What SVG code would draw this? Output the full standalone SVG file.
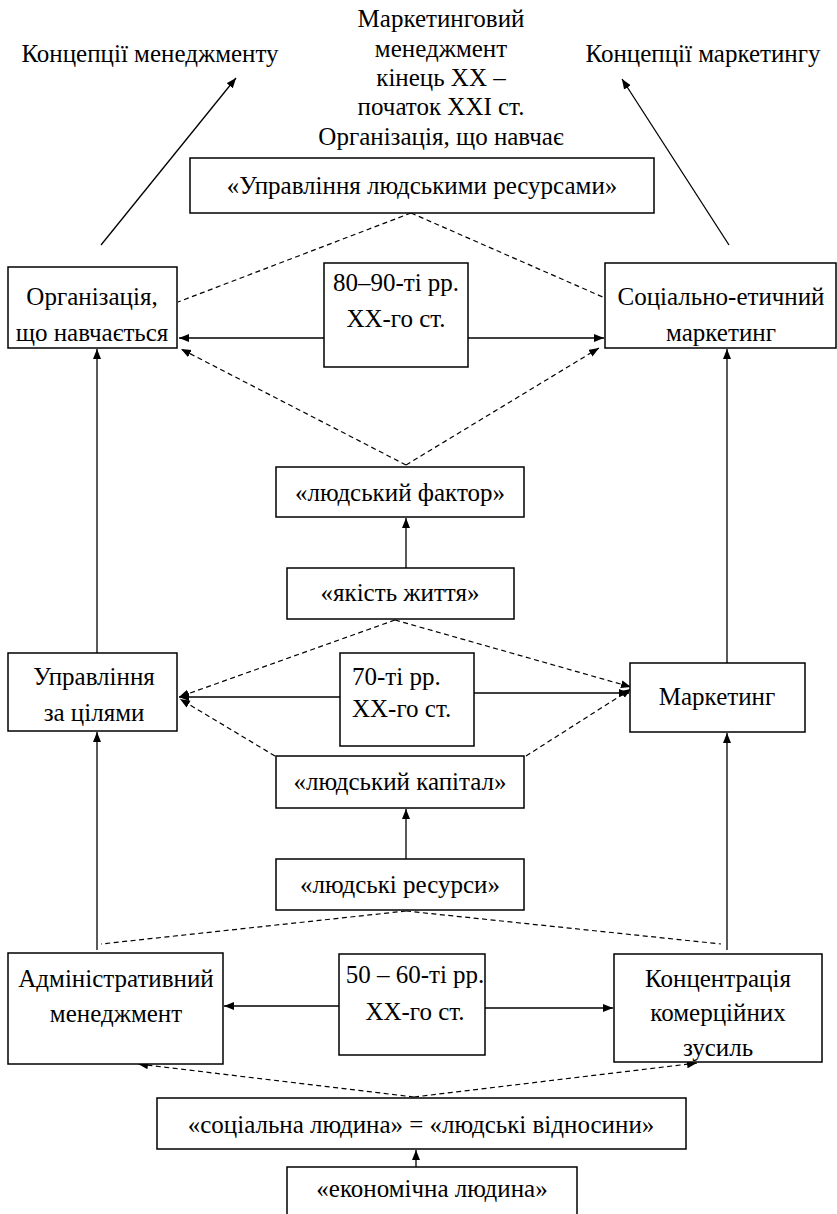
<svg xmlns="http://www.w3.org/2000/svg" width="837" height="1214" viewBox="0 0 837 1214">
<style>
.box{fill:#fff;stroke:#000;stroke-width:1.5}
.ln{fill:none;stroke:#000;stroke-width:1.3}
.da{fill:none;stroke:#000;stroke-width:1.2;stroke-dasharray:5 3.5}
.st{text-anchor:start}
</style>
<defs>
<marker id="ah" markerUnits="userSpaceOnUse" markerWidth="12" markerHeight="10" refX="10" refY="4" orient="auto">
<path d="M0,0 L10,4 L0,8 z" fill="#000"/>
</marker>
</defs>
<rect width="837" height="1214" fill="#fff"/>
<g id="connectors">
<line class="ln" x1="101" y1="245" x2="236" y2="78" marker-end="url(#ah)"/>
<line class="ln" x1="729" y1="245" x2="622" y2="79" marker-end="url(#ah)"/>
<line class="da" x1="411" y1="213" x2="178" y2="302"/>
<line class="da" x1="411" y1="213" x2="605" y2="298"/>
<line class="ln" x1="324" y1="338" x2="179" y2="338" marker-end="url(#ah)"/>
<line class="ln" x1="468" y1="338" x2="604" y2="338" marker-end="url(#ah)"/>
<line class="da" x1="406" y1="465" x2="181" y2="349" marker-end="url(#ah)"/>
<line class="da" x1="406" y1="465" x2="599" y2="348" marker-end="url(#ah)"/>
<line class="ln" x1="406" y1="568" x2="406" y2="518" marker-end="url(#ah)"/>
<line class="da" x1="395" y1="620" x2="179" y2="697" marker-end="url(#ah)"/>
<line class="da" x1="395" y1="620" x2="631" y2="687" marker-end="url(#ah)"/>
<line class="ln" x1="340" y1="697" x2="179" y2="697" marker-end="url(#ah)"/>
<line class="ln" x1="474" y1="693" x2="629" y2="693" marker-end="url(#ah)"/>
<line class="da" x1="275" y1="756" x2="180" y2="699" marker-end="url(#ah)"/>
<line class="da" x1="526" y1="756" x2="631" y2="689" marker-end="url(#ah)"/>
<line class="ln" x1="406" y1="859" x2="406" y2="809" marker-end="url(#ah)"/>
<line class="da" x1="406" y1="911" x2="101" y2="944"/>
<line class="da" x1="406" y1="911" x2="721" y2="944"/>
<line class="ln" x1="97" y1="950" x2="97" y2="732" marker-end="url(#ah)"/>
<line class="ln" x1="97" y1="653" x2="97" y2="349" marker-end="url(#ah)"/>
<line class="ln" x1="727" y1="950" x2="727" y2="733" marker-end="url(#ah)"/>
<line class="ln" x1="727" y1="663" x2="727" y2="349" marker-end="url(#ah)"/>
<line class="ln" x1="339" y1="1006" x2="224" y2="1006" marker-end="url(#ah)"/>
<line class="ln" x1="485" y1="1008" x2="613" y2="1008" marker-end="url(#ah)"/>
<line class="da" x1="414" y1="1097" x2="138" y2="1064" marker-end="url(#ah)"/>
<line class="da" x1="414" y1="1097" x2="697" y2="1063" marker-end="url(#ah)"/>
<line class="ln" x1="416" y1="1167" x2="416" y2="1150" marker-end="url(#ah)"/>
</g>
<g font-family="'Liberation Serif', 'Times New Roman', serif" font-size="25" fill="#000" text-anchor="middle">
<g id="label-management"><text x="150" y="62">Концепції менеджменту</text></g>
<g id="label-center">
<text x="441" y="27">Маркетинговий</text>
<text x="441" y="57">менеджмент</text>
<text x="441" y="86">кінець XX –</text>
<text x="441" y="115">початок XXI ст.</text>
<text x="441" y="145">Організація, що навчає</text>
</g>
<g id="label-marketing"><text x="703" y="62">Концепції маркетингу</text></g>
<g id="n-ulr"><rect class="box" x="190" y="158" width="464" height="55"/><text x="422" y="194">«Управління людськими ресурсами»</text></g>
<g id="n-org"><rect class="box" x="8" y="267" width="169" height="81"/><text x="92" y="305">Організація,</text><text x="92" y="341">що навчається</text></g>
<g id="n-8090"><rect class="box" x="324" y="263" width="144" height="104"/><text x="396" y="291">80–90-ті рр.</text><text x="396" y="327">XX-го ст.</text></g>
<g id="n-soc"><rect class="box" x="605" y="263" width="231" height="85"/><text x="721" y="305">Соціально-етичний</text><text x="721" y="341">маркетинг</text></g>
<g id="n-factor"><rect class="box" x="276" y="467" width="248" height="50"/><text x="400" y="501">«людський фактор»</text></g>
<g id="n-yakist"><rect class="box" x="287" y="568" width="227" height="51"/><text x="400" y="601">«якість життя»</text></g>
<g id="n-uzc"><rect class="box" x="8" y="653" width="169" height="78"/><text x="94" y="685">Управління</text><text x="94" y="721">за цілями</text></g>
<g id="n-70"><rect class="box" x="340" y="653" width="134" height="93"/><text class="st" x="352" y="685">70-ті рр.</text><text class="st" x="352" y="717">XX-го ст.</text></g>
<g id="n-mark"><rect class="box" x="630" y="663" width="175" height="69"/><text x="717" y="705">Маркетинг</text></g>
<g id="n-kapital"><rect class="box" x="276" y="756" width="248" height="52"/><text x="400" y="790">«людський капітал»</text></g>
<g id="n-resursy"><rect class="box" x="276" y="859" width="248" height="51"/><text x="400" y="893">«людські ресурси»</text></g>
<g id="n-admin"><rect class="box" x="8" y="953" width="215" height="111"/><text x="116" y="987">Адміністративний</text><text x="116" y="1022">менеджмент</text></g>
<g id="n-5060"><rect class="box" x="339" y="954" width="146" height="101"/><text x="415" y="983">50 – 60-ті рр.</text><text x="415" y="1020">XX-го ст.</text></g>
<g id="n-konc"><rect class="box" x="614" y="954" width="208" height="108"/><text x="718" y="987">Концентрація</text><text x="718" y="1021">комерційних</text><text x="718" y="1056">зусиль</text></g>
<g id="n-soclud"><rect class="box" x="157" y="1098" width="529" height="51"/><text x="421" y="1133">«соціальна людина» = «людські відносини»</text></g>
<g id="n-econ"><rect class="box" x="287" y="1167" width="290" height="60"/><text x="432" y="1197">«економічна людина»</text></g>
</g>
</svg>
